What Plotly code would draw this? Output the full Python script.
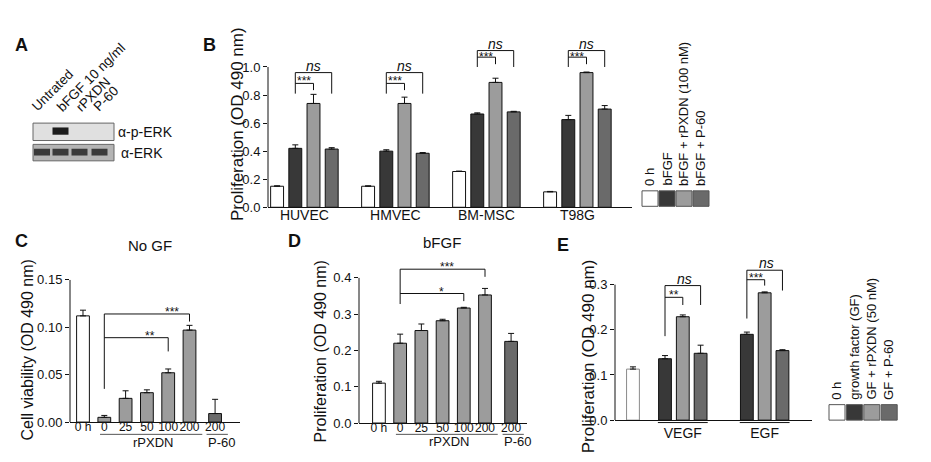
import plotly.graph_objects as go

W, H = 931, 462

# ---------------- data ----------------
B_cells = ["HUVEC", "HMVEC", "BM-MSC", "T98G"]
B_legend = ["0 h", "bFGF", "bFGF + rPXDN (100 nM)", "bFGF + P-60"]
B_0h = [0.150, 0.150, 0.255, 0.110]
B_0h_err = [0.003, 0.003, 0.003, 0.003]
B_bfgf = [0.420, 0.400, 0.665, 0.625]
B_bfgf_err = [0.025, 0.010, 0.008, 0.030]
B_rpxdn = [0.740, 0.740, 0.890, 0.960]
B_rpxdn_err = [0.065, 0.045, 0.030, 0.004]
B_p60 = [0.415, 0.385, 0.680, 0.700]
B_p60_err = [0.010, 0.005, 0.004, 0.025]
B_sig_inner = ["***", "***", "***", "***"]
B_sig_outer = ["ns", "ns", "ns", "ns"]
B_yticks = [0.0, 0.2, 0.4, 0.6, 0.8, 1.0]

C_labels = ["0 h", "0", "25", "50", "100", "200", "200"]
C_values = [0.112, 0.005, 0.025, 0.031, 0.052, 0.097, 0.009]
C_err = [0.006, 0.002, 0.008, 0.003, 0.004, 0.005, 0.015]
C_yticks = [0.00, 0.05, 0.10, 0.15]

D_labels = ["0 h", "0", "25", "50", "100", "200", "200"]
D_values = [0.110, 0.220, 0.255, 0.282, 0.317, 0.353, 0.225]
D_err = [0.005, 0.025, 0.018, 0.004, 0.002, 0.018, 0.022]
D_yticks = [0.0, 0.1, 0.2, 0.3, 0.4]

E_groups = ["VEGF", "EGF"]
E_legend = ["0 h", "growth factor (GF)", "GF + rPXDN (50 nM)", "GF + P-60"]
E_0h = [0.113]
E_0h_err = [0.005]
E_gf = [0.136, 0.190]
E_gf_err = [0.007, 0.005]
E_rpxdn = [0.229, 0.282]
E_rpxdn_err = [0.004, 0.002]
E_p60 = [0.148, 0.154]
E_p60_err = [0.018, 0.002]
E_sig_inner = ["**", "***"]
E_sig_outer = ["ns", "ns"]
E_yticks = [0.0, 0.1, 0.2, 0.3]

blot_lanes = ["Untrated", "bFGF 10 ng/ml", "rPXDN", "P-60"]
blot_rows = ["α-p-ERK", "α-ERK"]
pERK_signal = [0, 1, 0, 0]
ERK_signal = [1, 1, 1, 1]

# ---------------- styles / layout ----------------
FONT = "Liberation Sans, Arial, Helvetica, sans-serif"
TXT = "#111111"
WHITE, DARK, LIGHT, MID = "#ffffff", "#383838", "#9c9c9c", "#6a6a6a"
B_colors = [WHITE, DARK, LIGHT, MID]
C_colors = [WHITE] + [LIGHT] * 5 + [MID]
OUT = dict(color=TXT, width=1)


def px(x):
    return x / W


def py(y):
    return 1 - y / H


def err(a):
    return dict(type="data", array=a, arrayminus=[0] * len(a), symmetric=False,
                color=TXT, thickness=1, width=3)


fig = go.Figure()

# ---- Panel B (grouped bars) ----
B_pos = list(range(len(B_cells)))
B_series = [(B_0h, B_0h_err), (B_bfgf, B_bfgf_err), (B_rpxdn, B_rpxdn_err), (B_p60, B_p60_err)]
for name, (vals, e), col in zip(B_legend, B_series, B_colors):
    fig.add_trace(go.Bar(x=B_pos, y=vals, name=name, marker=dict(color=col, line=OUT),
                         error_y=err(e), xaxis="x", yaxis="y", showlegend=False))

# ---- Panel C ----
C_pos = list(range(6)) + [6.2]
fig.add_trace(go.Bar(x=C_pos, y=C_values, width=0.6, marker=dict(color=C_colors, line=OUT),
                     error_y=err(C_err), xaxis="x2", yaxis="y2", showlegend=False))

# ---- Panel D ----
D_pos = list(range(6)) + [6.23]
fig.add_trace(go.Bar(x=D_pos, y=D_values, width=0.6, marker=dict(color=C_colors, line=OUT),
                     error_y=err(D_err), xaxis="x3", yaxis="y3", showlegend=False))

# ---- Panel E ----
E_centers = [2.8, 7.4]
E_x, E_y, E_e, E_c, E_l = [0], list(E_0h), list(E_0h_err), [WHITE], ["#8a8a8a"]
for gi, c in enumerate(E_centers):
    for off, vals, es, col in ((-1, E_gf, E_gf_err, DARK), (0, E_rpxdn, E_rpxdn_err, LIGHT),
                               (1, E_p60, E_p60_err, MID)):
        E_x.append(c + off)
        E_y.append(vals[gi])
        E_e.append(es[gi])
        E_c.append(col)
        E_l.append(TXT)
fig.add_trace(go.Bar(x=E_x, y=E_y, width=0.72, marker=dict(color=E_c, line=dict(color=E_l, width=1)),
                     error_y=err(E_e), xaxis="x4", yaxis="y4", showlegend=False))

xbase = dict(showline=True, linecolor=TXT, linewidth=1, ticks="", showgrid=False,
             zeroline=False, tickfont=dict(size=12, color=TXT, family=FONT), fixedrange=True, tickangle=0)
ybase = dict(showline=False, ticks="outside", ticklen=4, tickwidth=1, tickcolor=TXT,
             showgrid=False, zeroline=False, tickfont=dict(size=13, color=TXT, family=FONT), fixedrange=True)

fig.update_layout(
    width=W, height=H, margin=dict(l=0, r=0, t=0, b=0),
    paper_bgcolor="white", plot_bgcolor="rgba(0,0,0,0)",
    font=dict(family=FONT, color=TXT),
    barmode="group", bargap=0.2, bargroupgap=0.29,
    xaxis=dict(xbase, domain=[px(268), px(632)], range=[-0.4, 3.6], anchor="y",
               tickvals=B_pos, ticktext=B_cells, ticklabelstandoff=-5,
               tickfont=dict(size=14, color=TXT, family=FONT)),
    yaxis=dict(ybase, domain=[py(207), py(207 - 1.2 * 145)], range=[0, 1.2], anchor="x",
               tickvals=B_yticks, tickformat=".1f"),
    xaxis2=dict(xbase, domain=[px(70), px(240)], range=[-0.61, 7.37], anchor="y2",
                tickvals=C_pos, ticktext=C_labels, ticklabelstandoff=-6),
    yaxis2=dict(ybase, domain=[py(429), py(429 - 0.15 * 980)], range=[0, 0.15], anchor="x2",
                tickvals=C_yticks, tickformat=".2f"),
    xaxis3=dict(xbase, domain=[px(359), px(527)], range=[-0.94, 6.98], anchor="y3",
                tickvals=D_pos, ticktext=D_labels, ticklabelstandoff=-6),
    yaxis3=dict(ybase, domain=[py(430), py(430 - 0.46 * 375)], range=[0, 0.46], anchor="x3",
                tickvals=D_yticks, tickformat=".1f"),
    xaxis4=dict(xbase, domain=[px(615), px(812)], range=[-1.01, 10.06], anchor="y4",
                tickvals=E_centers, ticktext=E_groups, ticklabelstandoff=0,
                tickfont=dict(size=14, color=TXT, family=FONT)),
    yaxis4=dict(ybase, domain=[py(427), py(427 - 0.36 * 466.7)], range=[0, 0.36], anchor="x4",
                tickvals=E_yticks, tickformat=".1f"),
)

shapes = []
ann = []
LINE = dict(color=TXT, width=1)


def yline(xa, ya, top):
    shapes.append(dict(type="line", xref=xa + " domain", x0=0, x1=0, yref=ya, y0=0, y1=top, line=LINE))


yline("x", "y", 1.0)
yline("x2", "y2", 0.15)
yline("x3", "y3", 0.4)
yline("x4", "y4", 0.3)


def path(xa, ya, pts):
    d = "M " + " L ".join(f"{x},{y}" for x, y in pts)
    shapes.append(dict(type="path", xref=xa, yref=ya, path=d, line=LINE))


def txt(xref, yref, x, y, s, size=12, **kw):
    d = dict(xref=xref, yref=yref, x=x, y=y, text=s, showarrow=False,
             xanchor="center", yanchor="middle",
             font=dict(size=size, family=FONT, color=TXT))
    d.update(kw)
    ann.append(d)


# B brackets
B_brk = [(0.96, 0.883, 0.81, 0.835), (0.96, 0.883, 0.81, 0.835),
         (1.117, 1.07, 1.0, 1.02), (1.117, 1.07, 1.0, 1.02)]
for g, (otop, itop, lb, ib) in enumerate(B_brk):
    xl, xm, xr = g - 0.1, g + 0.1, g + 0.3
    path("x", "y", [(xl, lb), (xl, otop), (xr, otop), (xr, lb)])
    path("x", "y", [(xl, itop), (xm, itop), (xm, ib)])
    txt("x", "y", g, (otop + itop) / 2, B_sig_inner[g], size=12, yshift=-3)
    txt("x", "y", g + 0.1, otop, "<i>" + B_sig_outer[g] + "</i>", size=14, yanchor="bottom", yshift=-3)

# C brackets
path("x2", "y2", [(1, 0.035), (1, 0.114), (5, 0.114), (5, 0.106)])
path("x2", "y2", [(1, 0.089), (4, 0.089), (4, 0.0745)])
txt("x2", "y2", 4.18, 0.114, "***", yanchor="bottom", yshift=-7)
txt("x2", "y2", 3.15, 0.089, "**", yanchor="bottom", yshift=-7)

# D brackets
path("x3", "y3", [(1, 0.328), (1, 0.424), (5, 0.424), (5, 0.403)])
path("x3", "y3", [(1, 0.357), (4, 0.357), (4, 0.336)])
txt("x3", "y3", 3.2, 0.424, "***", yanchor="bottom", yshift=-7)
txt("x3", "y3", 2.97, 0.357, "*", yanchor="bottom", yshift=-7)

# E brackets
E_brk = [(0.298, 0.272, 0.186, 0.255, 0.255), (0.332, 0.311, 0.225, 0.287, 0.298)]
for gi, c in enumerate(E_centers):
    otop, itop, lb, rb, ib = E_brk[gi]
    path("x4", "y4", [(c - 1, lb), (c - 1, otop), (c + 1, otop), (c + 1, rb)])
    path("x4", "y4", [(c - 1, itop), (c, itop), (c, ib)])
    txt("x4", "y4", c - 0.5, itop, E_sig_inner[gi], yanchor="bottom", yshift=-7)
    txt("x4", "y4", c + 0.1, otop, "<i>" + E_sig_outer[gi] + "</i>", size=14, yanchor="bottom", yshift=-3)
    shapes.append(dict(type="line", xref="x4", yref="paper", x0=c - 1.4, x1=c + 1.4,
                       y0=py(429.5), y1=py(429.5), line=LINE))

# C / D group underlines and labels
for xa, pos, ypx_line, ypx_txt in (("x2", C_pos, 441.7, 450), ("x3", D_pos, 441.7, 449.5)):
    shapes.append(dict(type="line", xref=xa, yref="paper", x0=pos[1] - 0.2, x1=pos[5] + 0.6,
                       y0=py(ypx_line), y1=py(ypx_line), line=dict(color="#555555", width=1)))
    shapes.append(dict(type="line", xref=xa, yref="paper", x0=pos[6] - 0.4, x1=pos[6] + 0.6,
                       y0=py(ypx_line), y1=py(ypx_line), line=dict(color="#555555", width=1)))
    txt(xa, "paper", (pos[1] + pos[5]) / 2 + 0.3, py(ypx_txt), "rPXDN", size=13)
    txt(xa, "paper", pos[6] + 0.3, py(ypx_txt), "P-60", size=13)
    txt(xa, "paper", pos[6] + 1.6, py(436), "nM", size=12)

# Legends (B and E)
for labels, cols, x0, ytop, ybot, step in ((B_legend, B_colors, 642, 190, 206, 17),
                                          (E_legend, B_colors, 829, 411, 427, 17.4)):
    for i, (lab, col) in enumerate(zip(labels, cols)):
        xl = x0 + i * step
        shapes.append(dict(type="rect", xref="paper", yref="paper", x0=px(xl), x1=px(xl + 16),
                           y0=py(ybot), y1=py(ytop), fillcolor=col,
                           line=dict(color="#555555", width=1)))
        txt("paper", "paper", px(xl + 8), py(ytop - 3), lab, size=13, textangle=-90,
            xanchor="center", yanchor="bottom")

# Panel A: western blot
lane_x = [42, 60.5, 79.5, 99.5]
shapes.append(dict(type="rect", xref="paper", yref="paper", x0=px(33), x1=px(114),
                   y0=py(138), y1=py(120), fillcolor="#e0e0e0", line=dict(color="#666666", width=1)))
shapes.append(dict(type="rect", xref="paper", yref="paper", x0=px(33), x1=px(114),
                   y0=py(159), y1=py(142), fillcolor="#b4b4b4", line=dict(color="#666666", width=1)))
for lx, s in zip(lane_x, pERK_signal):
    if s:
        shapes.append(dict(type="rect", xref="paper", yref="paper", x0=px(lx - 8), x1=px(lx + 8),
                           y0=py(132), y1=py(124.5), fillcolor="#1c1c1c", line=dict(width=0)))
for lx, s in zip(lane_x, ERK_signal):
    if s:
        shapes.append(dict(type="rect", xref="paper", yref="paper", x0=px(lx - 8), x1=px(lx + 8),
                           y0=py(153.5), y1=py(146.5), fillcolor="#3a3a3a", line=dict(width=0)))
for lab, sx in zip(blot_lanes, [35, 60, 79, 97]):
    txt("paper", "paper", px(sx - 9), py(114), lab, size=13.5, textangle=-45,
        xanchor="left", yanchor="bottom")
txt("paper", "paper", px(116), py(129), blot_rows[0], size=14, xanchor="left")
txt("paper", "paper", px(119), py(151), blot_rows[1], size=14, xanchor="left")

# Panel letters
for L, x, y in (("A", 21, 39), ("B", 209, 39), ("C", 21, 242), ("D", 294, 242), ("E", 563, 246)):
    txt("paper", "paper", px(x), py(y), "<b>" + L + "</b>", size=18)

# Titles
txt("paper", "paper", px(150), py(247), "No GF", size=15)
txt("paper", "paper", px(442), py(243), "bFGF", size=15)

# Y-axis titles
txt("paper", "paper", px(237), py(121), "Proliferation (OD 490 nm)", size=17, textangle=-90)
txt("paper", "paper", px(27), py(355), "Cell viability (OD 490 nm)", size=16, textangle=-90)
txt("paper", "paper", px(320), py(356), "Proliferation (OD 490 nm)", size=16, textangle=-90)
txt("paper", "paper", px(588), py(361), "Proliferation (OD 490 nm)", size=17, textangle=-90)

fig.update_layout(shapes=shapes, annotations=ann)
fig.write_html("out.html", config={"displayModeBar": False},
               post_script="document.body.style.margin='0';document.body.style.overflow='hidden';")
